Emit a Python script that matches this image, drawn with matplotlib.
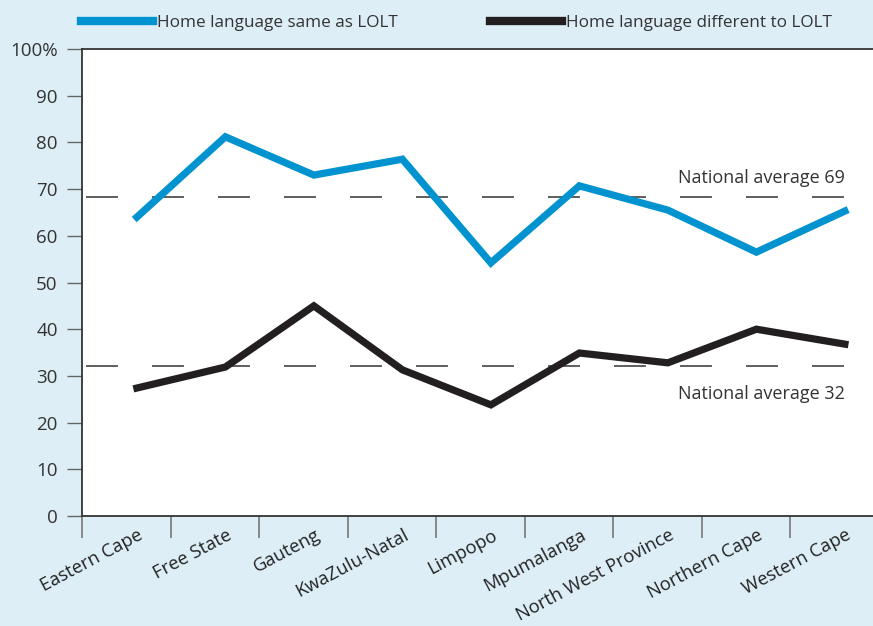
import numpy as np
import matplotlib.pyplot as plt

plt.rcParams['font.family'] = ['Open Sans', 'DejaVu Sans']

provinces = ['Eastern Cape', 'Free State', 'Gauteng', 'KwaZulu-Natal', 'Limpopo',
             'Mpumalanga', 'North West Province', 'Northern Cape', 'Western Cape']
same_lolt = [64.0, 81.2, 73.0, 76.4, 54.2, 70.7, 65.5, 56.5, 65.3]
diff_lolt = [27.4, 31.9, 45.0, 31.3, 23.8, 34.9, 32.8, 40.0, 36.8]
avg_same = 68.3
avg_diff = 32.1

bg = '#ddeef7'
blue = '#0093d0'
dark = '#231f20'

fig = plt.figure(figsize=(8.73, 6.26), dpi=100, facecolor=bg)
ax = fig.add_axes([82/873, 110/626, 1 - 82/873, 467/626])
ax.set_facecolor('white')

x = np.arange(len(provinces)) + 0.62

# national averages (dashed)
for avg in [avg_same, avg_diff]:
    ax.plot([0.045, x[-1]], [avg, avg], color='#333333', lw=1.1,
            dashes=(20.9, 22.3))

ax.plot(x, same_lolt, color=blue, lw=5.2, solid_joinstyle='miter',
        label='Home language same as LOLT')
ax.plot(x, diff_lolt, color=dark, lw=5.2, solid_joinstyle='miter',
        label='Home language different to LOLT')

ax.text(x[-1], 71.3, 'National average 69', ha='right', va='baseline',
        fontsize=13, color='#333333')
ax.text(x[-1], 25.1, 'National average 32', ha='right', va='baseline',
        fontsize=13, color='#333333')

ax.set_xlim(0, (873 - 82) / 88.5)
ax.set_ylim(0, 100)
ax.set_yticks(range(0, 101, 10))
ax.set_yticklabels([str(v) for v in range(0, 100, 10)] + ['100%'])
ax.tick_params(axis='y', length=11, width=1, color='#666666', labelsize=13.5,
               labelcolor='#333333', pad=6.5)

ax.set_xticks(np.arange(len(provinces)))
ax.set_xticklabels([])
ax.tick_params(axis='x', length=16, width=1.2, color='#777777')
for xi, name in zip(x, provinces):
    ax.text(xi + 0.01, -2.2, name, rotation=28, ha='right', va='top',
            rotation_mode='anchor', fontsize=13.2, color='#222222')

for side in ['left', 'bottom', 'top']:
    ax.spines[side].set_color('#333333')
    ax.spines[side].set_linewidth(1.3)
ax.spines['right'].set_visible(False)

fig.legend(loc='center left', bbox_to_anchor=(81/873, 1 - 23/626), ncol=2,
           frameon=False, fontsize=12.3, handlelength=4.2, handletextpad=0.25,
           columnspacing=5.4, labelcolor='#333333', borderpad=0,
           borderaxespad=0)
for line in fig.legends[0].get_lines():
    line.set_linewidth(6)

fig.savefig('out.png', dpi=100, facecolor=bg)
